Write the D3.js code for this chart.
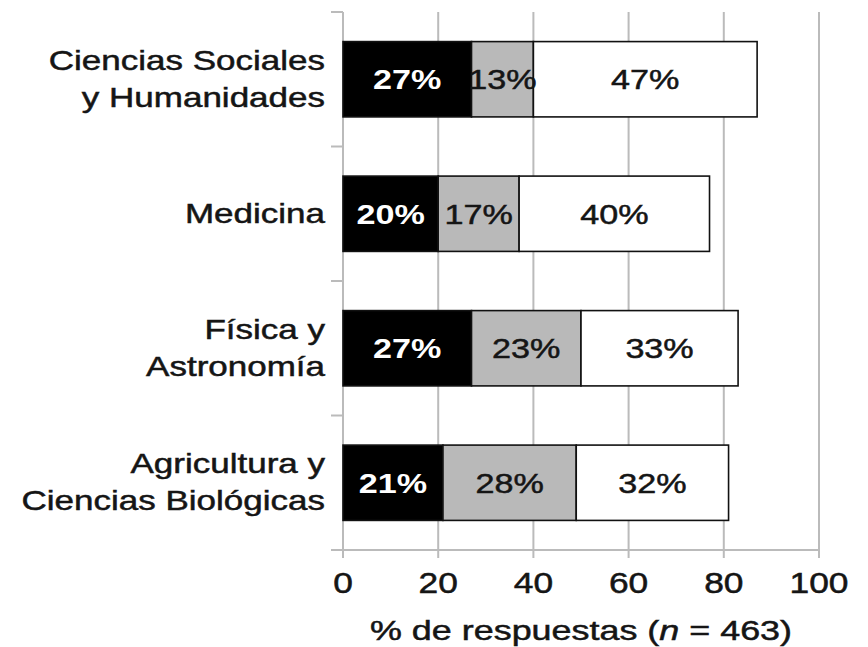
<!DOCTYPE html>
<html><head><meta charset="utf-8">
<script src="https://cdn.jsdelivr.net/npm/d3@7"></script>
<style>body{margin:0;background:#fff}svg{display:block}text{font-family:"Liberation Sans",Arial,sans-serif}</style>
</head><body>
<script>
const categories = [["Ciencias Sociales","y Humanidades"],["Medicina"],["Física y","Astronomía"],["Agricultura y","Ciencias Biológicas"]];
const blackVals = [27,20,27,21];
const grayVals  = [13,17,23,28];
const whiteVals = [47,40,33,32];
const xTicks = [0,20,40,60,80,100];
const xTitle = ["% de respuestas (", "n", " = 463)"];

const W=868,H=647, SX=1.22;
const svg=d3.select("body").append("svg").attr("width",W).attr("height",H);
const x=d3.scaleLinear().domain([0,100]).range([343,819]);
const y=d3.scaleBand().domain(d3.range(categories.length)).range([12,550]).paddingInner(0.44).paddingOuter(0.22);
const gridColor="#bbbbbb";
const ink="#151515";

// gridlines
svg.append("g").selectAll("line").data(xTicks.slice(1)).join("line")
  .attr("x1",d=>x(d)).attr("x2",d=>x(d)).attr("y1",12).attr("y2",550)
  .attr("stroke",gridColor).attr("stroke-width",2);

// y axis line + boundary ticks
const bounds=[12].concat(d3.range(1,categories.length).map(i=>(y(i-1)+y.bandwidth()+y(i))/2)).concat([550]);
svg.append("line").attr("x1",x(0)).attr("x2",x(0)).attr("y1",12).attr("y2",558).attr("stroke",gridColor).attr("stroke-width",2);
svg.append("g").selectAll("line").data(bounds).join("line")
  .attr("x1",331).attr("x2",x(0)).attr("y1",d=>d).attr("y2",d=>d).attr("stroke",gridColor).attr("stroke-width",2);
// x axis
svg.append("line").attr("x1",331).attr("x2",x(100)).attr("y1",550).attr("y2",550).attr("stroke",gridColor).attr("stroke-width",2);
svg.append("g").selectAll("line").data(xTicks).join("line")
  .attr("x1",d=>x(d)).attr("x2",d=>x(d)).attr("y1",550).attr("y2",558).attr("stroke",gridColor).attr("stroke-width",2);

svg.append("g").selectAll("text").data(xTicks).join("text")
  .attr("transform",d=>`translate(${x(d)},593) scale(${SX},1)`)
  .attr("text-anchor","middle").attr("font-size",29).attr("fill",ink)
  .attr("stroke",ink).attr("stroke-width",0.5).text(d=>d);

// bars
const segs=[];
categories.forEach((c,i)=>{
  let s=0;
  [[blackVals[i],"#000","#fff","bold"],[grayVals[i],"#b9b9b9",ink,"normal"],[whiteVals[i],"#fff",ink,"normal"]].forEach(([v,f,tc,fw])=>{
    segs.push({i,x0:s,x1:s+v,v,f,tc,fw}); s+=v;
  });
});
const bg=svg.append("g");
bg.selectAll("rect").data(segs).join("rect")
  .attr("x",d=>x(d.x0)).attr("width",d=>x(d.x1)-x(d.x0))
  .attr("y",d=>y(d.i)).attr("height",y.bandwidth())
  .attr("fill",d=>d.f).attr("stroke","#111").attr("stroke-width",1.6);
bg.selectAll("text").data(segs).join("text")
  .attr("transform",d=>`translate(${x((d.x0+d.x1)/2)},${y(d.i)+y.bandwidth()/2+10}) scale(${SX},1)`)
  .attr("text-anchor","middle").attr("font-size",28).attr("font-weight",d=>d.fw)
  .attr("fill",d=>d.tc).attr("stroke",d=>d.fw==="bold"?"none":ink).attr("stroke-width",0.5).text(d=>d.v+"%");

// category labels
const lg=svg.append("g");
categories.forEach((lines,i)=>{
  const cy=y(i)+y.bandwidth()/2;
  const lh=37;
  lines.forEach((t,k)=>{
    const yy=cy+9+(k-(lines.length-1)/2)*lh;
    lg.append("text").attr("transform",`translate(325,${yy}) scale(1.25,1)`)
      .attr("text-anchor","end").attr("font-size",28).attr("fill",ink)
      .attr("stroke",ink).attr("stroke-width",0.5).text(t);
  });
});

// x title
const tt=svg.append("text").attr("transform",`translate(${(x(0)+x(100))/2},640) scale(1.26,1)`)
  .attr("text-anchor","middle").attr("font-size",28.5).attr("fill",ink)
  .attr("stroke",ink).attr("stroke-width",0.5);
tt.append("tspan").text(xTitle[0]);
tt.append("tspan").attr("font-style","italic").text(xTitle[1]);
tt.append("tspan").text(xTitle[2]);
</script>
</body></html>
